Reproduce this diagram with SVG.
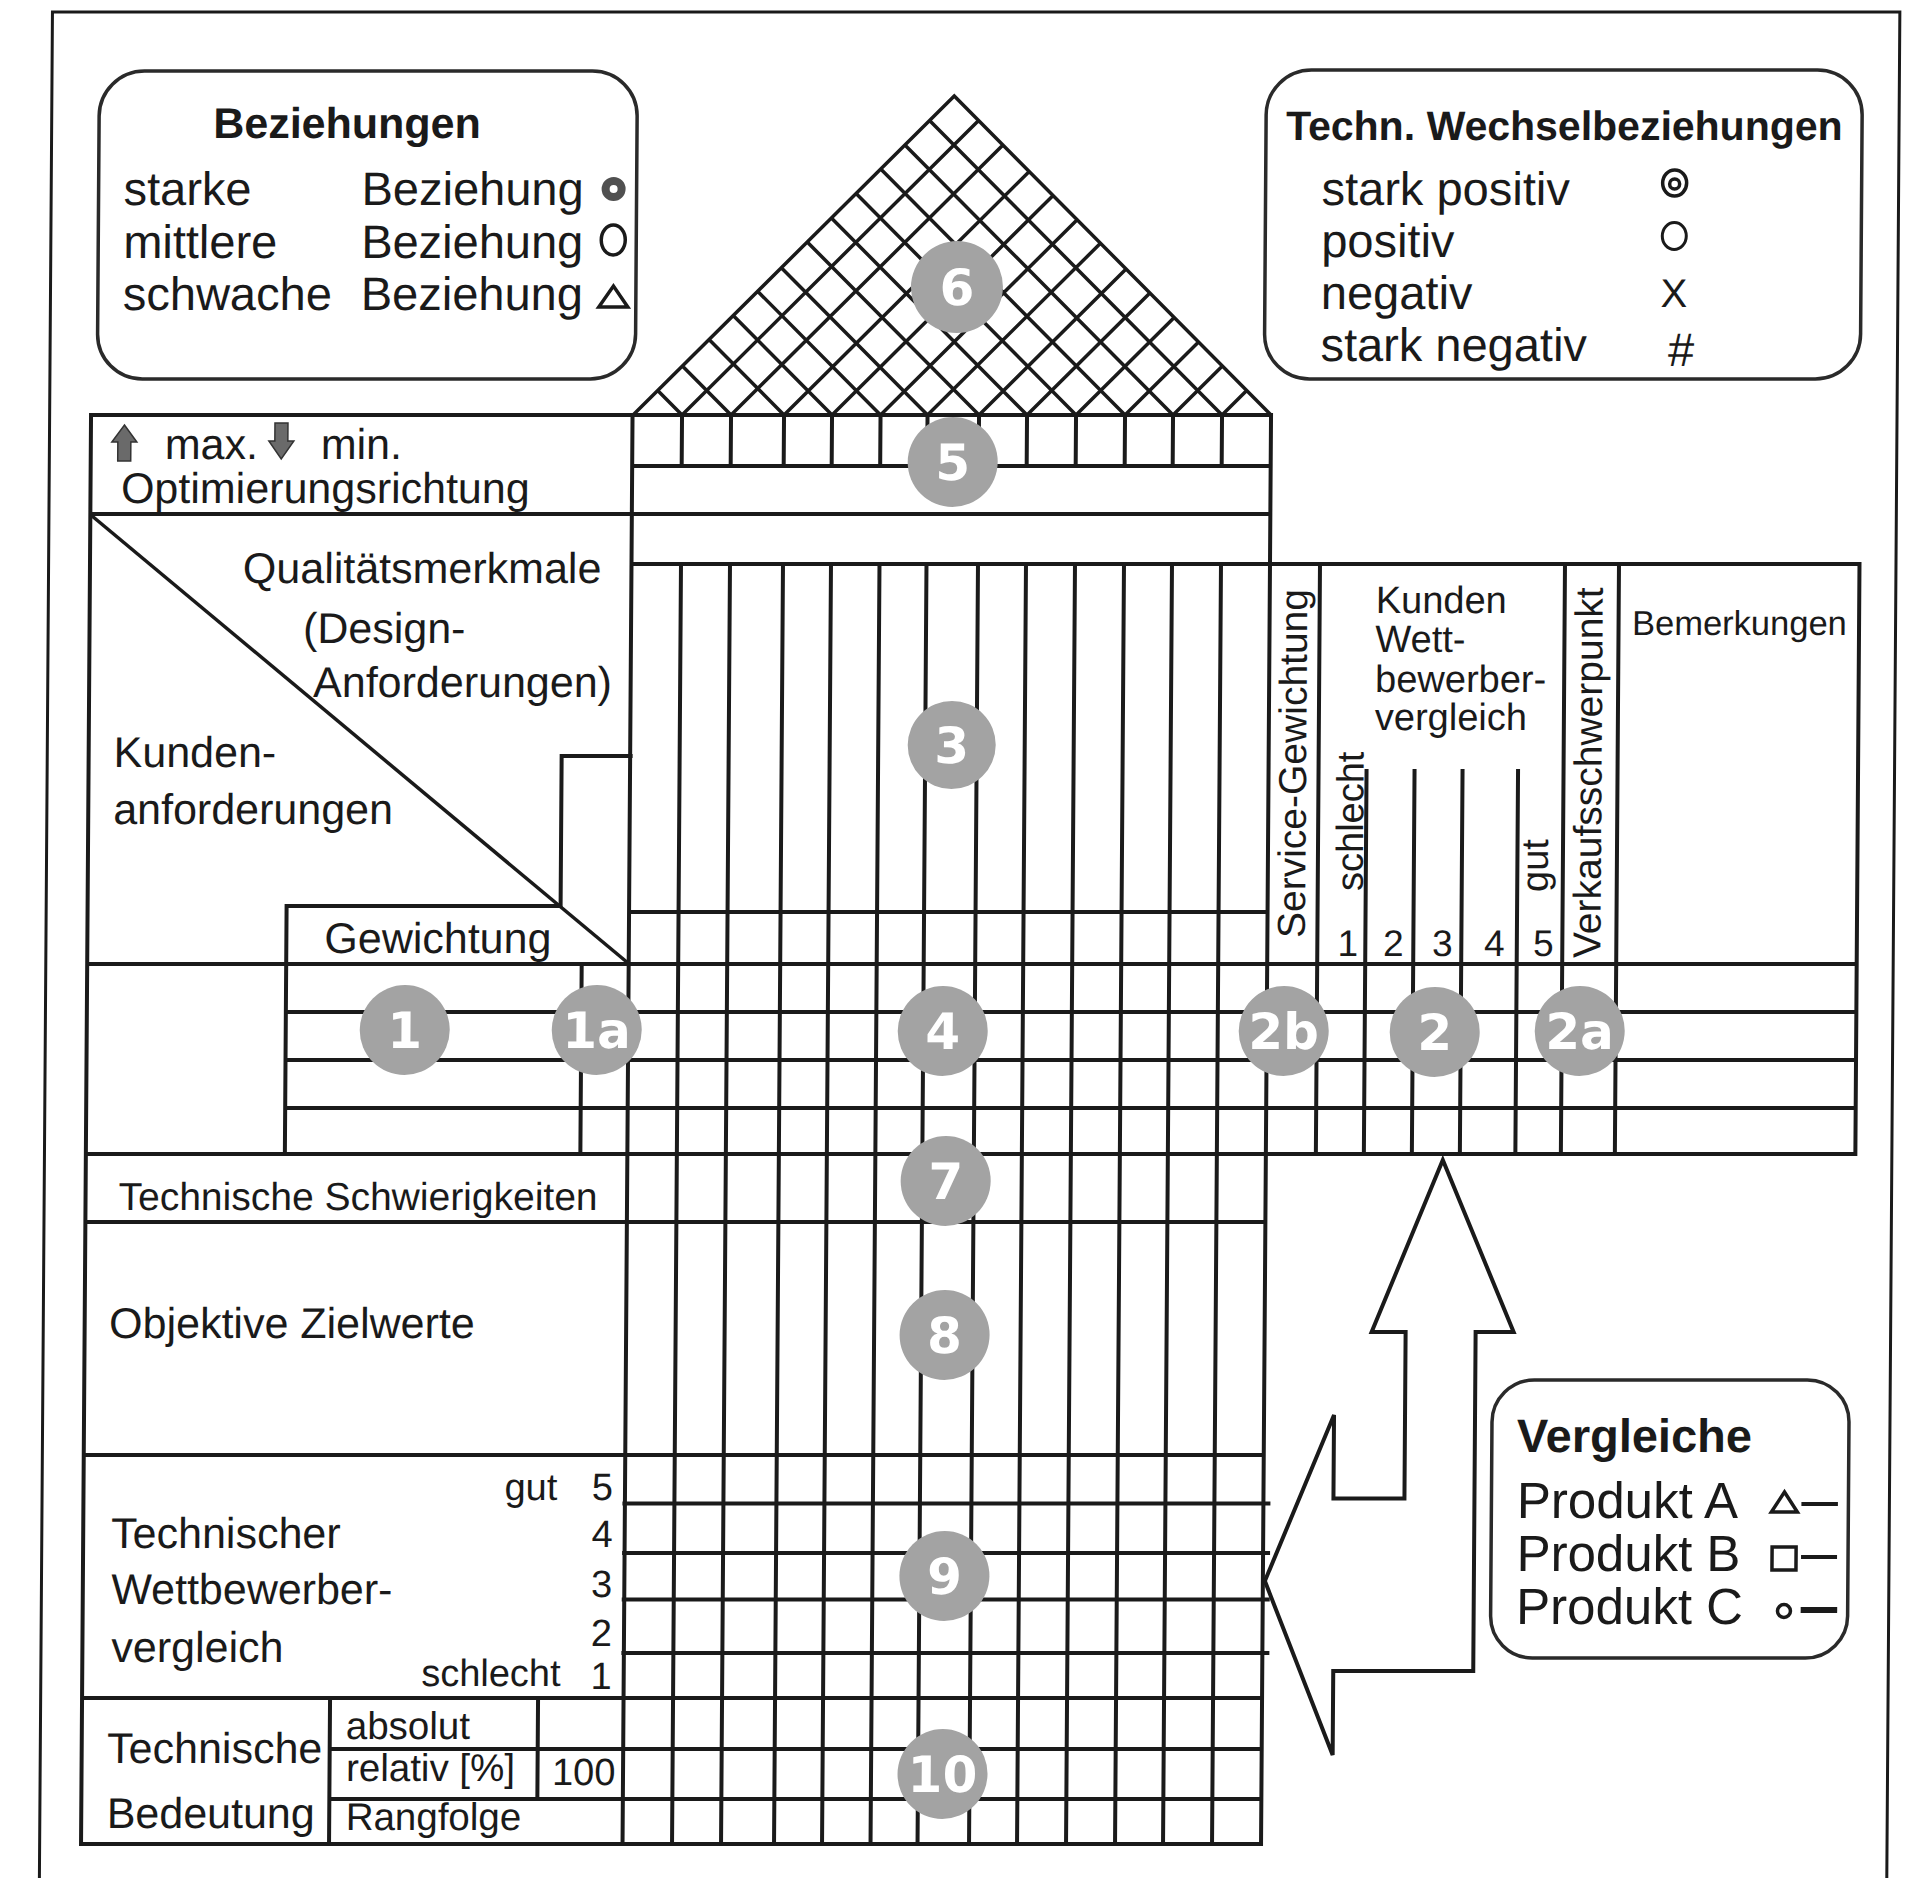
<svg xmlns="http://www.w3.org/2000/svg" width="1905" height="1878" viewBox="0 0 1905 1878">
<style>
.ln{stroke:#1a1a1a;stroke-width:4;fill:none;stroke-linecap:square}
.lat{stroke:#1a1a1a;stroke-width:3.5;fill:none;stroke-linecap:round}
.box{fill:#fff;stroke:#2a2a2a;stroke-width:3.5}
.t{font-family:'Liberation Sans',Arial,sans-serif;fill:#1a1a1a}
.b{font-weight:bold}
.bg{fill:#a3a3a3}
.bn{font-family:'DejaVu Sans',sans-serif;font-weight:bold;fill:#fff;font-size:50px;text-anchor:middle}
.sym{fill:none;stroke:#1a1a1a;stroke-width:3.5}
</style>
<rect width="1905" height="1878" fill="#fff"/>
<g transform="matrix(1 0 -0.007 1 3.94 0)">
<path d="M48.6,1900 V12 H1896 V1900" fill="none" stroke="#1a1a1a" stroke-width="3"/>

<g id="legend-beziehungen">
<rect class="box" x="96" y="71" width="538" height="308" rx="45"/>
<text class="t b" x="344" y="138" font-size="43" text-anchor="middle">Beziehungen</text>
<text class="t" x="121" y="205" font-size="47">starke</text>
<text class="t" x="121" y="258" font-size="47">mittlere</text>
<text class="t" x="121" y="310" font-size="47">schwache</text>
<text class="t" x="359" y="205" font-size="47">Beziehung</text>
<text class="t" x="359" y="258" font-size="47">Beziehung</text>
<text class="t" x="359" y="310" font-size="47">Beziehung</text>
<circle cx="611" cy="189" r="8" fill="#fff" stroke="#505050" stroke-width="8"/>
<ellipse cx="611" cy="240" rx="12" ry="15" class="sym"/>
<path d="M597,307 H626 L611.5,286 Z" class="sym"/>
</g>

<g id="legend-wechsel">
<rect class="box" x="1263" y="70" width="596" height="309" rx="45"/>
<text class="t b" x="1283" y="140" font-size="41">Techn. Wechselbeziehungen</text>
<text class="t" x="1319" y="205" font-size="47">stark positiv</text>
<text class="t" x="1319" y="257" font-size="47">positiv</text>
<text class="t" x="1319" y="309" font-size="47">negativ</text>
<text class="t" x="1319" y="361" font-size="47">stark negativ</text>
<ellipse cx="1672" cy="183" rx="12" ry="13" fill="none" stroke="#1a1a1a" stroke-width="3.5"/>
<circle cx="1672" cy="184" r="5" fill="none" stroke="#1a1a1a" stroke-width="3.5"/>
<ellipse cx="1672" cy="236" rx="12" ry="13.5" fill="none" stroke="#1a1a1a" stroke-width="3"/>
<text class="t" x="1672" y="307" font-size="40" text-anchor="middle">X</text>
<text class="t" x="1679" y="366" font-size="47" font-style="italic" text-anchor="middle">#</text>
</g>

<g id="roof">
<path class="lat" d="M632,415 L951,96 L1270,415
M681,415 L975.5,120.5 M730,415 L1000,145 M783,415 L1026.5,171.5 M831,415 L1050.5,195.5 M879.5,415 L1074.75,219.75 M926.5,415 L1098.25,243.25 M978,415 L1124,269 M1026,415 L1148,293 M1075,415 L1172.5,317.5 M1124,415 L1197,342 M1172,415 L1221,366 M1221,415 L1245.5,390.5
M681,415 L656.5,390.5 M730,415 L681,366 M783,415 L707.5,339.5 M831,415 L731.5,315.5 M879.5,415 L755.75,291.25 M926.5,415 L779.25,267.75 M978,415 L805,242 M1026,415 L829,218 M1075,415 L853.5,193.5 M1124,415 L878,169 M1172,415 L902,145 M1221,415 L926.5,120.5"/>
</g>

<g id="grid">
<path class="ln" d="M90,415 H1270 M632,466 H1270 M90,514 H1270 M632,564 H1859 M632,912 H1270
M90,964 H1859 M289,1012 H1859 M289,1060 H1859 M289,1108 H1859 M90,1154 H1859
M90,1222 H1270 M90,1455 H1270 M631,1503.5 H1275 M631,1553 H1275 M631,1599.5 H1275 M631,1653 H1275
M90,1698 H1270 M338,1749 H1270 M338,1799 H1270 M90,1844 H1270
M563,756 H632 M289,906 H563
M90,415 V1844 M631.5,415 V1844 M1270,415 V1844
M681,415 V466 M730,415 V466 M783,415 V466 M831,415 V466 M879.5,415 V466 M926.5,415 V466 M978,415 V466 M1026,415 V466 M1075,415 V466 M1124,415 V466 M1172,415 V466 M1221,415 V466
M681,564 V1844 M730,564 V1844 M783,564 V1844 M831,564 V1844 M879.5,564 V1844 M926.5,564 V1844 M978,564 V1844 M1026,564 V1844 M1075,564 V1844 M1124,564 V1844 M1172,564 V1844 M1221,564 V1844
M563,756 V906 M289,906 V1154 M584.5,964 V1154 M338,1698 V1844 M546,1698 V1799
M1320,564 V1154 M1368,771 V1154 M1416,771 V1154 M1464,771 V1154 M1519.5,771 V1154 M1565,564 V1154 M1619,564 V1154 M1859.5,564 V1154"/>
<path d="M90.5,515 L632,964" stroke="#1a1a1a" stroke-width="3.5" fill="none"/>
</g>

<g id="optimierung">
<path d="M123.5,425 L136,442 H130 V461 H117 V442 H111 Z" fill="#6a6a6a" stroke="#333" stroke-width="1.5"/>
<path d="M274,423 H287 V441 H293 L280.5,459 L268,441 H274 Z" fill="#6a6a6a" stroke="#333" stroke-width="1.5"/>
<text class="t" x="164" y="459" font-size="43">max.</text>
<text class="t" x="320" y="459" font-size="43">min.</text>
<text class="t" x="120.5" y="503" font-size="43">Optimierungsrichtung</text>
</g>

<g id="kunden">
<text class="t" x="243" y="583" font-size="43">Qualitätsmerkmale</text>
<text class="t" x="303.5" y="643" font-size="43">(Design-</text>
<text class="t" x="314" y="697" font-size="43">Anforderungen)</text>
<text class="t" x="115" y="767" font-size="43">Kunden-</text>
<text class="t" x="115" y="824" font-size="43">anforderungen</text>
<text class="t" x="327" y="953" font-size="43">Gewichtung</text>
</g>

<g id="rechts">
<text class="t" font-size="39" transform="translate(1307.5 938) rotate(-90)">Service-Gewichtung</text>
<text class="t" x="1376" y="613" font-size="38">Kunden</text>
<text class="t" x="1376" y="652" font-size="38">Wett-</text>
<text class="t" x="1376" y="692" font-size="38">bewerber-</text>
<text class="t" x="1376" y="730" font-size="38">vergleich</text>
<text class="t" font-size="38" transform="translate(1365 891) rotate(-90)">schlecht</text>
<text class="t" font-size="38" transform="translate(1550 892) rotate(-90)">gut</text>
<text class="t" font-size="37" x="1350.5" y="956" text-anchor="middle">1</text>
<text class="t" font-size="37" x="1396" y="956" text-anchor="middle">2</text>
<text class="t" font-size="37" x="1445" y="956" text-anchor="middle">3</text>
<text class="t" font-size="37" x="1497" y="956" text-anchor="middle">4</text>
<text class="t" font-size="37" x="1546" y="956" text-anchor="middle">5</text>
<text class="t" font-size="39" transform="translate(1603 958) rotate(-90)">Verkaufsschwerpunkt</text>
<text class="t" x="1632.5" y="635" font-size="34.5">Bemerkungen</text>
</g>

<g id="unten">
<text class="t" x="123" y="1210" font-size="39">Technische Schwierigkeiten</text>
<text class="t" x="114.5" y="1338" font-size="43">Objektive Zielwerte</text>
<text class="t" x="511" y="1500" font-size="38">gut</text>
<text class="t" x="619.5" y="1500" font-size="38" text-anchor="end">5</text>
<text class="t" x="619.5" y="1547" font-size="38" text-anchor="end">4</text>
<text class="t" x="619.5" y="1597" font-size="38" text-anchor="end">3</text>
<text class="t" x="619.5" y="1646" font-size="38" text-anchor="end">2</text>
<text class="t" x="619.5" y="1689" font-size="38" text-anchor="end">1</text>
<text class="t" x="429" y="1686" font-size="38">schlecht</text>
<text class="t" x="118" y="1548" font-size="43">Technischer</text>
<text class="t" x="118.5" y="1604" font-size="43">Wettbewerber-</text>
<text class="t" x="119" y="1662" font-size="43">vergleich</text>
<text class="t" x="115.5" y="1763" font-size="43">Technische</text>
<text class="t" x="115.5" y="1828" font-size="43">Bedeutung</text>
<text class="t" x="354" y="1739" font-size="38.5">absolut</text>
<text class="t" x="354.5" y="1781" font-size="38.5">relativ [%]</text>
<text class="t" x="560.5" y="1785" font-size="38">100</text>
<text class="t" x="354.5" y="1830" font-size="38.5">Rangfolge</text>
</g>

<g id="connectors">
<path d="M1447,1160 L1519,1332 H1481 V1671 H1341 V1755 L1272,1581 L1340,1415 V1498.5 H1411 V1332 H1377 Z" fill="#fff" stroke="#1a1a1a" stroke-width="4" stroke-linejoin="miter"/>
</g>

<g id="legend-vergleiche">
<rect class="box" x="1498" y="1380" width="357" height="278" rx="42"/>
<text class="t b" x="1523" y="1452" font-size="47">Vergleiche</text>
<text class="t" x="1523.5" y="1518" font-size="51">Produkt A</text>
<text class="t" x="1523.5" y="1571.5" font-size="51">Produkt B</text>
<text class="t" x="1523.5" y="1624" font-size="51">Produkt C</text>
<path d="M1778,1512 H1804 L1791,1492 Z" class="sym"/>
<rect x="1779" y="1547" width="24" height="23" class="sym"/>
<circle cx="1791.3" cy="1611" r="6.5" class="sym"/>
<path d="M1808,1504 H1844.5 M1808,1557 H1844" stroke="#1a1a1a" stroke-width="4"/>
<path d="M1808,1610 H1844.5" stroke="#1a1a1a" stroke-width="6"/>
</g>

<g id="badges">
<circle class="bg" cx="955" cy="287" r="46"/><text class="bn" x="955" y="305">6</text>
<circle class="bg" cx="952" cy="462" r="45"/><text class="bn" x="952" y="480">5</text>
<circle class="bg" cx="953" cy="745" r="44"/><text class="bn" x="953" y="763">3</text>
<circle class="bg" cx="946" cy="1031" r="45"/><text class="bn" x="946" y="1049">4</text>
<circle class="bg" cx="950" cy="1181" r="45"/><text class="bn" x="950" y="1199">7</text>
<circle class="bg" cx="950" cy="1335" r="45"/><text class="bn" x="950" y="1353">8</text>
<circle class="bg" cx="951.5" cy="1576" r="45"/><text class="bn" x="951.5" y="1594">9</text>
<circle class="bg" cx="951" cy="1774" r="45"/><text class="bn" x="951" y="1792">10</text>
<circle class="bg" cx="408" cy="1030" r="45"/><text class="bn" x="408" y="1048">1</text>
<circle class="bg" cx="600" cy="1030" r="45"/><text class="bn" x="600" y="1048">1a</text>
<circle class="bg" cx="1287" cy="1031" r="45"/><text class="bn" x="1287" y="1049">2b</text>
<circle class="bg" cx="1438" cy="1032" r="45"/><text class="bn" x="1438" y="1050">2</text>
<circle class="bg" cx="1583" cy="1031" r="45"/><text class="bn" x="1583" y="1049">2a</text>
</g>
</g>
</svg>
